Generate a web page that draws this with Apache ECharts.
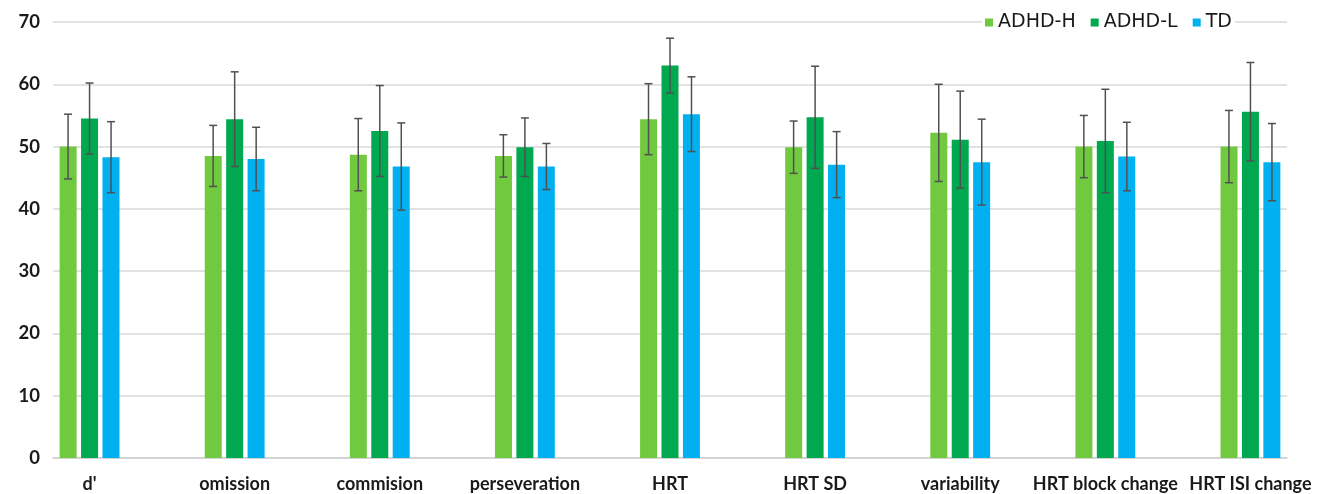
<!DOCTYPE html>
<html><head><meta charset="utf-8">
<script src="https://cdn.jsdelivr.net/npm/echarts@6/dist/echarts.min.js"></script>
<style>html,body{margin:0;padding:0;background:#fff}#c{width:1325px;height:494px}</style>
</head><body><div id="c"></div>
<script>
var categories = ["d'", "omission", "commision", "perseveration", "HRT", "HRT SD", "variability", "HRT block change", "HRT ISI change"];
var seriesNames = ["ADHD-H", "ADHD-L", "TD"];
var adhdH = [50.0, 48.5, 48.7, 48.5, 54.4, 49.9, 52.2, 50.0, 50.0];
var adhdHErr = [5.2, 4.9, 5.8, 3.4, 5.7, 4.2, 7.8, 5.0, 5.8];
var adhdL = [54.5, 54.4, 52.5, 49.9, 63.0, 54.7, 51.1, 50.9, 55.6];
var adhdLErr = [5.7, 7.6, 7.3, 4.7, 4.4, 8.2, 7.8, 8.3, 7.9];
var td = [48.3, 48.0, 46.8, 46.8, 55.2, 47.1, 47.5, 48.4, 47.5];
var tdErr = [5.7, 5.1, 7.0, 3.7, 6.0, 5.3, 6.9, 5.5, 6.2];
var yTicks = [0, 10, 20, 30, 40, 50, 60, 70];

var colors = ['#70C93F', '#00A94F', '#00B0F0'];
var values = [adhdH, adhdL, td];
var errs = [adhdHErr, adhdLErr, tdErr];
var chart = echarts.init(document.getElementById('c'));
var BAR_W = 17, STEP = 21.5;

function errSeries(k) {
  var data = values[k].map(function (v, i) { return [i, v, errs[k][i]]; });
  return {
    type: 'custom', xAxisIndex: 0, yAxisIndex: 0, z: 5, silent: true,
    data: data,
    renderItem: function (params, api) {
      var i = api.value(0), v = api.value(1), e = api.value(2);
      var top = api.coord([i, v + e]);
      var bot = api.coord([i, v - e]);
      var x = top[0] + (k - 1) * STEP;
      var cw = 4;
      var st = { stroke: '#505050', lineWidth: 1.5 };
      return { type: 'group', children: [
        { type: 'line', shape: { x1: x, y1: top[1], x2: x, y2: bot[1] }, style: st },
        { type: 'line', shape: { x1: x - cw, y1: top[1], x2: x + cw, y2: top[1] }, style: st },
        { type: 'line', shape: { x1: x - cw, y1: bot[1], x2: x + cw, y2: bot[1] }, style: st }
      ]};
    }
  };
}

var series = [];
for (var k = 0; k < 3; k++) {
  series.push({
    name: seriesNames[k], type: 'bar', xAxisIndex: 0, yAxisIndex: 0,
    data: values[k], barWidth: BAR_W, barGap: '26%',
    itemStyle: { color: colors[k] }
  });
}
for (var k2 = 0; k2 < 3; k2++) series.push(errSeries(k2));

chart.setOption({
  animation: false,
  textStyle: { fontFamily: 'Lato' },
  legend: {
    data: seriesNames, left: 982, top: 12, itemWidth: 8, itemHeight: 8, itemGap: 15,
    icon: 'rect', backgroundColor: '#fff', padding: [1, 3], z: 10,
    textStyle: { fontSize: 19, color: '#1a1a1a', fontFamily: 'DejaVu Sans', padding: [0, 0, 0, 0] }
  },
  grid: [
    { left: 17, right: 2, top: 22, bottom: 36 },
    { left: 53, right: 38, top: 22, bottom: 36 }
  ],
  xAxis: [
    { type: 'category', gridIndex: 0, data: categories,
      axisLine: { show: false }, axisTick: { show: false },
      axisLabel: { fontSize: 18, fontWeight: 'bold', color: '#1a1a1a', margin: 17, interval: 0, fontFamily: 'Lato' } },
    { type: 'value', gridIndex: 1, min: 0, max: 1, show: true,
      axisLine: { show: true, lineStyle: { color: '#d0d0d0', width: 1.5 } },
      axisTick: { show: false }, axisLabel: { show: false }, splitLine: { show: false } }
  ],
  yAxis: [
    { type: 'value', gridIndex: 0, min: yTicks[0], max: yTicks[yTicks.length - 1], interval: 10, show: false, splitLine: { show: false } },
    { type: 'value', gridIndex: 1, min: yTicks[0], max: yTicks[yTicks.length - 1], interval: 10,
      axisLine: { show: false }, axisTick: { show: false },
      axisLabel: { fontSize: 18.5, fontWeight: 'bold', color: '#1a1a1a', margin: 13, fontFamily: 'Lato' },
      splitLine: { lineStyle: { color: '#d9d9d9', width: 1.5 } } }
  ],
  series: series
});
</script></body></html>
